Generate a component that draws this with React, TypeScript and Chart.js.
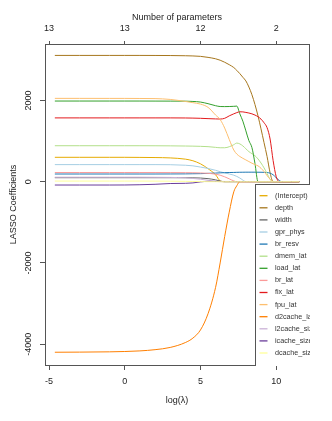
import React, { useEffect, useRef } from "react";
import { Chart, registerables } from "chart.js";
Chart.register(...registerables);

const logLambda = [-4.62, -3, -1, 0, 1, 2, 3, 4, 4.5, 5, 5.5, 6, 6.3, 6.6, 6.9, 7.2, 7.4, 7.6, 7.8, 8.0, 8.2, 8.4, 8.6, 8.8, 9.0, 9.2, 9.4, 9.6, 9.8, 10.0, 10.2, 10.4, 11.0, 11.52];

const seriesNames = ["(Intercept)", "depth", "width", "gpr_phys", "br_resv", "dmem_lat", "load_lat", "br_lat", "fix_lat", "fpu_lat", "d2cache_lat", "l2cache_size", "icache_size", "dcache_size"];
const seriesColors = ["#E6AB02", "#A6761D", "#666666", "#A6CEE3", "#1F78B4", "#B2DF8A", "#33A02C", "#FB9A99", "#E31A1C", "#FDBF6F", "#FF7F00", "#CAB2D6", "#6A3D9A", "#FFFF99"];

const intercept = [600, 600, 600, 600, 598, 594, 585, 555, 515, 440, 320, 170, 20, 0, 0, 0, 0, 0, 0, 0, 0, 0, 0, 0, 0, 0, 0, 0, 0, 0, 0, 0, 0, 0];
const depth = [3108, 3108, 3108, 3108, 3108, 3107, 3105, 3100, 3095, 3085, 3060, 3025, 2990, 2940, 2880, 2810, 2740, 2660, 2570, 2480, 2330, 2140, 1900, 1620, 1300, 960, 620, 220, 0, 0, 0, 0, 0, 0];
const width = [98, 98, 98, 98, 98, 98, 98, 97, 95, 90, 75, 45, 15, 0, 0, 0, 0, 0, 0, 0, 0, 0, 0, 0, 0, 0, 0, 0, 0, 0, 0, 0, 0, 0];
const gprPhys = [420, 420, 420, 420, 420, 420, 418, 405, 390, 360, 325, 280, 245, 215, 190, 160, 130, 90, 40, 0, 0, 0, 0, 0, 0, 0, 0, 0, 0, 0, 0, 0, 0, 0];
const brResv = [189, 189, 189, 189, 189, 189, 190, 192, 195, 198, 205, 212, 218, 222, 226, 228, 230, 232, 233, 234, 234, 234, 234, 233, 232, 230, 225, 210, 170, 100, 30, 0, 0, 0];
const dmemLat = [885, 885, 885, 885, 885, 884, 882, 878, 875, 870, 862, 845, 835, 835, 860, 910, 950, 930, 880, 810, 740, 690, 640, 560, 460, 340, 200, 60, 0, 0, 0, 0, 0, 0];
const loadLat = [1985, 1985, 1985, 1985, 1985, 1984, 1983, 1982, 1975, 1960, 1920, 1870, 1850, 1848, 1850, 1855, 1860, 1670, 1490, 1250, 1010, 840, 450, 0, 0, 0, 0, 0, 0, 0, 0, 0, 0, 0];
const brLat = [225, 225, 225, 225, 225, 225, 224, 222, 220, 215, 205, 185, 160, 120, 70, 20, 0, 0, 0, 0, 0, 0, 0, 0, 0, 0, 0, 0, 0, 0, 0, 0, 0, 0];
const fixLat = [1570, 1570, 1570, 1570, 1570, 1570, 1570, 1568, 1565, 1560, 1552, 1545, 1542, 1560, 1620, 1670, 1700, 1720, 1718, 1705, 1690, 1670, 1640, 1600, 1540, 1450, 1330, 1050, 520, 130, 0, 0, 0, 0];
const fpuLat = [2051, 2051, 2050, 2050, 2048, 2045, 2025, 1975, 1945, 1910, 1830, 1640, 1530, 1320, 1040, 780, 680, 620, 575, 535, 495, 455, 420, 390, 330, 250, 150, 60, 0, 0, 0, 0, 0, 0];
const d2cacheLat = [-4198, -4195, -4188, -4180, -4165, -4135, -4080, -3960, -3850, -3650, -3250, -2600, -2000, -1350, -750, -250, -100, 0, 0, 0, 0, 0, 0, 0, 0, 0, 0, 0, 0, 0, 0, 0, 0, 0];
const l2cacheSize = [110, 110, 110, 110, 110, 108, 105, 95, 80, 60, 35, 10, 0, 0, 0, 0, 0, 0, 0, 0, 0, 0, 0, 0, 0, 0, 0, 0, 0, 0, 0, 0, 0, 0];
const icacheSize = [-82, -82, -82, -81, -75, -64, -45, -40, -30, -5, 8, 7, 6, 5, 5, 4, 4, 3, 3, 3, 2, 2, 2, 2, 1, 1, 1, 1, 1, 0, 0, 0, 0, 0];
const dcacheSize = [15, 15, 15, 15, 15, 14, 12, 8, 5, 2, 0, 0, 0, 0, 0, 0, 0, 0, 0, 0, 0, 0, 0, 0, 0, 0, 0, 0, 0, 0, 0, 0, 0, 0];

const seriesValues = [intercept, depth, width, gprPhys, brResv, dmemLat, loadLat, brLat, fixLat, fpuLat, d2cacheLat, l2cacheSize, icacheSize, dcacheSize];

const xTicks = [-5, 0, 5, 10];
const topTickLabels = ["13", "13", "12", "2"];
const yTicks = [-4000, -2000, 0, 2000];
const xTitle = "log(λ)";
const topTitle = "Number of parameters";
const yTitle = "LASSO Coefficients";

const FONT = "'Liberation Sans', Arial, sans-serif";
const AXIS = "#555555";

const rPlugin = {
  id: "rStyle",
  afterDraw(chart: any) {
    const { ctx, chartArea: a } = chart;
    const ys = chart.scales.y;
    ctx.save();
    // box
    ctx.strokeStyle = AXIS;
    ctx.lineWidth = 1;
    ctx.strokeRect(Math.round(a.left) + 0.5, Math.round(a.top) + 0.5, Math.round(a.right - a.left), Math.round(a.bottom - a.top));
    // y tick labels, rotated
    ctx.fillStyle = "#222";
    ctx.font = `9px ${FONT}`;
    ctx.textAlign = "center";
    ctx.textBaseline = "middle";
    yTicks.forEach((v) => {
      const py = ys.getPixelForValue(v);
      ctx.save();
      ctx.translate(a.left - 16, py);
      ctx.rotate(-Math.PI / 2);
      ctx.fillText(String(v), 0, 0);
      ctx.restore();
    });
    // legend, clipped to plot region
    ctx.save();
    ctx.beginPath();
    ctx.rect(a.left, a.top, a.right - a.left + 1, a.bottom - a.top + 1);
    ctx.clip();
    const bx = 255.5, by = 184.5;
    ctx.fillStyle = "#ffffff";
    ctx.fillRect(bx, by, 120, 200);
    ctx.strokeStyle = AXIS;
    ctx.strokeRect(bx, by, 120, 200);
    ctx.font = `7.2px ${FONT}`;
    ctx.textAlign = "left";
    ctx.textBaseline = "middle";
    chart.data.datasets.forEach((ds: any, i: number) => {
      const yy = 195.7 + i * 12.1;
      ctx.strokeStyle = ds.borderColor;
      ctx.lineWidth = 1.3;
      ctx.beginPath();
      ctx.moveTo(259.5, yy);
      ctx.lineTo(267.5, yy);
      ctx.stroke();
      ctx.fillStyle = "#333";
      ctx.fillText(ds.label, 275, yy);
    });
    ctx.restore();
    ctx.restore();
  },
};

export default function App() {
  const ref = useRef<HTMLCanvasElement>(null);
  useEffect(() => {
    document.body.style.margin = "0";
    const n = seriesNames.length;
    const chart = new Chart(ref.current!, {
      type: "line",
      data: {
        datasets: seriesNames.map((name, i) => ({
          label: name,
          data: logLambda.map((x, j) => ({ x, y: seriesValues[i][j] })),
          borderColor: seriesColors[i],
          backgroundColor: seriesColors[i],
          borderWidth: 1,
          pointRadius: 0,
          cubicInterpolationMode: "monotone" as const,
          order: n - 1 - i,
        })),
      },
      options: {
        animation: false,
        responsive: false,
        devicePixelRatio: 1,
        layout: { padding: { left: 0, right: 23, top: 0, bottom: 0 } },
        plugins: { legend: { display: false }, tooltip: { enabled: false } },
        scales: {
          x: {
            type: "linear",
            position: "bottom",
            min: -5.27,
            max: 12.17,
            afterBuildTicks: (s: any) => { s.ticks = xTicks.map((v) => ({ value: v })); },
            afterFit: (s: any) => { s.height = 56; },
            grid: { drawOnChartArea: false, drawTicks: true, tickLength: 5, color: AXIS },
            border: { display: true, color: AXIS },
            ticks: { padding: 6.3, color: "#222", font: { family: FONT, size: 9 }, maxRotation: 0, autoSkip: false, callback: (v: any) => String(v) },
            title: { display: true, text: xTitle, color: "#222", font: { family: FONT, size: 9 }, padding: { top: 0, bottom: 14.9 } },
          },
          x2: {
            type: "linear",
            position: "top",
            min: -5.27,
            max: 12.17,
            afterBuildTicks: (s: any) => { s.ticks = xTicks.map((v) => ({ value: v })); },
            afterFit: (s: any) => { s.height = 44; },
            grid: { drawOnChartArea: false, drawTicks: true, tickLength: 3, color: AXIS },
            border: { display: true, color: AXIS },
            ticks: { padding: 6.6, color: "#222", font: { family: FONT, size: 9 }, maxRotation: 0, autoSkip: false, callback: (v: any) => topTickLabels[xTicks.indexOf(Number(v))] ?? "" },
            title: { display: true, text: topTitle, color: "#222", font: { family: FONT, size: 9 }, padding: { top: 12.3, bottom: 0 } },
          },
          y: {
            type: "linear",
            position: "left",
            min: -4512,
            max: 3389,
            afterBuildTicks: (s: any) => { s.ticks = yTicks.map((v) => ({ value: v })); },
            afterFit: (s: any) => { s.width = 45; },
            grid: { drawOnChartArea: false, drawTicks: true, tickLength: 5, color: AXIS },
            border: { display: true, color: AXIS },
            ticks: { display: false },
            title: { display: true, text: yTitle, color: "#222", font: { family: FONT, size: 9 }, padding: { top: 7.9, bottom: 0 } },
          },
        },
      },
      plugins: [rPlugin],
    } as any);
    return () => chart.destroy();
  }, []);
  return (
    <div style={{ position: "absolute", left: 0, top: 0, width: 332, height: 421 }}>
      <canvas ref={ref} width={332} height={421} style={{ width: 332, height: 421, display: "block" }} />
    </div>
  );
}
